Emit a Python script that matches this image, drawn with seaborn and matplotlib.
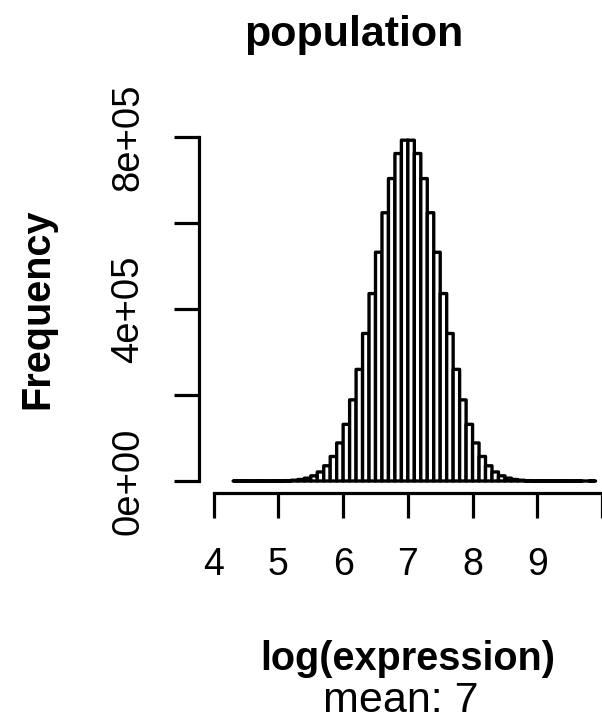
import numpy as np
import pandas as pd
import matplotlib
matplotlib.use("Agg")
import matplotlib.pyplot as plt
import seaborn as sns

# histogram of log(expression), bins of width 0.1 from 4.3 to 9.9
bin_edges = [round(4.3 + 0.1 * i, 1) for i in range(57)]
counts_left = [1, 2, 6, 12, 35, 77, 188, 401, 876, 1772,
               3514, 6612, 12071, 21035, 35402, 57011, 88520, 131756, 188712, 259540,
               343150, 435870, 532060, 623850, 703350, 761580, 792640]
counts_right = [792560, 761620, 703290, 623920, 531980, 435930, 343080, 259610, 188650, 131820,
                88450, 57080, 35360, 21070, 12040, 6640, 3490, 1785, 868, 409,
                181, 80, 32, 14, 5, 2, 1, 0, 1]
counts = counts_left + counts_right
bin_centers = [(a + b) / 2 for a, b in zip(bin_edges[:-1], bin_edges[1:])]

x_ticks = [4, 5, 6, 7, 8, 9, 10]
x_ticklabels = ["4", "5", "6", "7", "8", "9", ""]
y_ticks = [0, 2e5, 4e5, 6e5, 8e5]
y_ticklabels = ["0e+00", "", "4e+05", "", "8e+05"]

df = pd.DataFrame({"logexpr": bin_centers, "count": counts})

sns.set_style("ticks")
plt.rcParams["font.family"] = ["Liberation Sans", "DejaVu Sans"]
plt.rcParams["text.color"] = "black"
plt.rcParams["xtick.color"] = "black"
plt.rcParams["ytick.color"] = "black"

W, H = 602, 727
fig = plt.figure(figsize=(W / 100, H / 100), dpi=100)

# axes box in pixels; data -> pixel: px = 214 + 65*(x-4), py = 481 - 43*y/1e5
L, R, T, B = 150, 602, 100, 500
ax = fig.add_axes([L / W, 1 - B / H, (R - L) / W, (B - T) / H])
ax.patch.set_alpha(0)

sns.histplot(data=df, x="logexpr", weights="count", bins=bin_edges, color="white",
             edgecolor="black", linewidth=2.4, alpha=1, ax=ax)
for p in ax.patches:
    p.set_joinstyle("round")
    p.set_snap(False)

ax.set_xlim(4 + (L - 214) / 65, 4 + (R - 214) / 65)
ax.set_ylim((481 - B) / 43 * 1e5, (481 - T) / 43 * 1e5)

for s in ["top", "right"]:
    ax.spines[s].set_visible(False)
ax.spines["left"].set_position(("data", 4 + (199 - 214) / 65))
ax.spines["left"].set_bounds(0, 8e5)
ax.spines["bottom"].set_position(("data", (481 - 493) / 43 * 1e5))
ax.spines["bottom"].set_bounds(4, 10)
for s in ["left", "bottom"]:
    ax.spines[s].set_linewidth(2.3)
    ax.spines[s].set_color("black")

ax.set_xticks(x_ticks)
ax.set_xticklabels(x_ticklabels)
ax.set_yticks(y_ticks)
ax.set_yticklabels(y_ticklabels, rotation=90, va="center")
ax.tick_params(axis="both", direction="out", length=18, width=2.3, color="black")
ax.tick_params(axis="x", pad=21, labelsize=27)
ax.tick_params(axis="y", pad=20, labelsize=27.5)
ax.set_xlabel("")
ax.set_ylabel("")

fig.text(354 / W, 1 - 46 / H, "population", ha="center", va="baseline",
         fontsize=31, fontweight="bold")
fig.text(408 / W, 1 - 670 / H, "log(expression)", ha="center", va="baseline",
         fontsize=28.5, fontweight="bold")
fig.text(401 / W, 1 - 712 / H, "mean: 7", ha="center", va="baseline", fontsize=31)
fig.text(37 / W, 1 - 309 / H, "Frequency", ha="center", va="center", rotation=90,
         fontsize=28.5, fontweight="bold")

fig.savefig("out.png", dpi=100)
